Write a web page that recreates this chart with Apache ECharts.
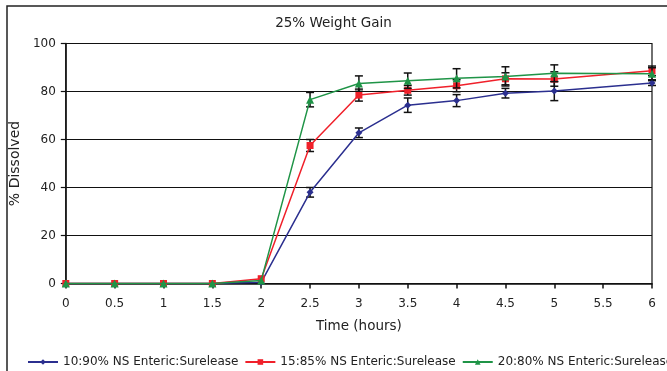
<!DOCTYPE html>
<html>
<head>
<meta charset="utf-8">
<script src="https://cdn.jsdelivr.net/npm/echarts@6/dist/echarts.min.js"></script>
<style>
  html, body { margin: 0; padding: 0; background: #fff; }
  #chart { width: 667px; height: 371px; }
</style>
</head>
<body>
<div id="chart"></div>
<script>
// Sampling times (hours)
const times = [0, 0.5, 1, 1.5, 2, 2.5, 3, 3.5, 4, 4.5, 5, 6];

// % dissolved per coating ratio, with standard deviations
const seriesNames = [
  '10:90% NS Enteric:Surelease',
  '15:85% NS Enteric:Surelease',
  '20:80% NS Enteric:Surelease'
];
const blueVals  = [0, 0, 0, 0, 0.5, 38, 62.8, 74.3, 76.2, 79.3, 80.2, 83.5];
const blueErr   = [0, 0, 0, 0, 0, 2, 2, 3, 2.5, 2, 4, 1];
const redVals   = [0, 0, 0, 0, 2, 57.5, 78.5, 80.5, 82.4, 85.3, 85.2, 88.6];
const redErr    = [0, 0, 0, 0, 0, 2.5, 2.5, 2, 2.5, 2.5, 3, 2];
const greenVals = [0, 0, 0, 0, 1.3, 76.6, 83.3, 84.5, 85.5, 86.3, 87.6, 87.4];
const greenErr  = [0, 0, 0, 0, 0, 3, 3.2, 3.2, 4, 4, 3.5, 2.5];

const xTicks = ['0', '0.5', '1', '1.5', '2', '2.5', '3', '3.5', '4', '4.5', '5', '5.5', '6'];
const yTicks = [0, 20, 40, 60, 80, 100];

const colors = ['#2b2f8f', '#f0202a', '#1f9447'];
const symbols = ['diamond', 'rect', 'triangle'];
const symbolSizes = [7, 7, 8];
const FONT = 'DejaVu Sans';

const valueSets = [blueVals, redVals, greenVals];
const errSets = [blueErr, redErr, greenErr];

function pairs(vals) { return times.map((t, i) => [t, vals[i]]); }
function errTriples(vals, errs) { return times.map((t, i) => [t, vals[i], errs[i]]); }

function renderErrorBar(params, api) {
  const x = api.value(0), y = api.value(1), e = api.value(2);
  if (!e) return null;
  const hi = api.coord([x, y + e]);
  const lo = api.coord([x, y - e]);
  const w = 4;
  const style = { stroke: '#111', lineWidth: 1.5 };
  return {
    type: 'group',
    children: [
      { type: 'line', shape: { x1: hi[0], y1: hi[1], x2: lo[0], y2: lo[1] }, style },
      { type: 'line', shape: { x1: hi[0] - w, y1: hi[1], x2: hi[0] + w, y2: hi[1] }, style },
      { type: 'line', shape: { x1: lo[0] - w, y1: lo[1], x2: lo[0] + w, y2: lo[1] }, style }
    ]
  };
}

const series = [];
valueSets.forEach((vals, k) => {
  series.push({
    name: seriesNames[k],
    type: 'line',
    data: pairs(vals),
    symbol: symbols[k],
    symbolSize: symbolSizes[k],
    showAllSymbol: true,
    itemStyle: { color: colors[k] },
    lineStyle: { color: colors[k], width: 1.5 },
    z: 3 + k,
    animation: false
  });
  series.push({
    name: seriesNames[k] + ' SD',
    type: 'custom',
    data: errTriples(vals, errSets[k]),
    renderItem: renderErrorBar,
    z: 3 + k,
    silent: true,
    animation: false
  });
});

const chart = echarts.init(document.getElementById('chart'), null, { renderer: 'canvas' });
chart.setOption({
  animation: false,
  backgroundColor: '#fff',
  textStyle: { fontFamily: FONT, color: '#222' },
  graphic: [{
    type: 'rect',
    shape: { x: 7, y: 6, width: 700, height: 420 },
    style: { fill: 'none', stroke: '#222', lineWidth: 1.5 },
    silent: true
  }],
  title: {
    text: '25% Weight Gain',
    left: 'center',
    top: 11,
    textStyle: { fontFamily: FONT, fontSize: 13.5, fontWeight: 'normal', color: '#222' }
  },
  legend: {
    data: seriesNames,
    left: 22,
    top: 351,
    width: 1200,
    padding: 5,
    itemWidth: 30,
    itemHeight: 7,
    itemGap: 6,
    textStyle: { fontFamily: FONT, fontSize: 12, color: '#222' }
  },
  grid: {
    left: 60, right: 15, top: 43.5, bottom: 87.5,
    show: true, borderColor: '#111', borderWidth: 1.2, backgroundColor: 'transparent'
  },
  xAxis: {
    type: 'value',
    min: 0, max: 6, interval: 0.5,
    name: 'Time (hours)',
    nameLocation: 'middle',
    nameGap: 36,
    nameTextStyle: { fontFamily: FONT, fontSize: 13.5, color: '#222' },
    axisLine: { show: true, lineStyle: { color: '#111', width: 1.5 } },
    axisTick: { show: true, length: 5, lineStyle: { color: '#111', width: 1.5 } },
    axisLabel: {
      margin: 14,
      fontFamily: FONT, fontSize: 12, color: '#222',
      formatter: (v) => xTicks[Math.round(v * 2)]
    },
    splitLine: { show: false }
  },
  yAxis: {
    type: 'value',
    min: 0, max: 100, interval: 20,
    name: '% Dissolved',
    nameLocation: 'middle',
    nameGap: 33,
    nameTextStyle: { fontFamily: FONT, fontSize: 14, color: '#222' },
    axisLine: { show: true, lineStyle: { color: '#111', width: 1.5 } },
    axisTick: { show: true, inside: false, length: 5, lineStyle: { color: '#111', width: 1.2 } },
    axisLabel: {
      margin: 10,
      fontFamily: FONT, fontSize: 12, color: '#222',
      formatter: (v) => (yTicks.includes(v) ? String(v) : '')
    },
    splitLine: { show: true, lineStyle: { color: '#111', width: 1.2 } }
  },
  series
});
</script>
</body>
</html>
